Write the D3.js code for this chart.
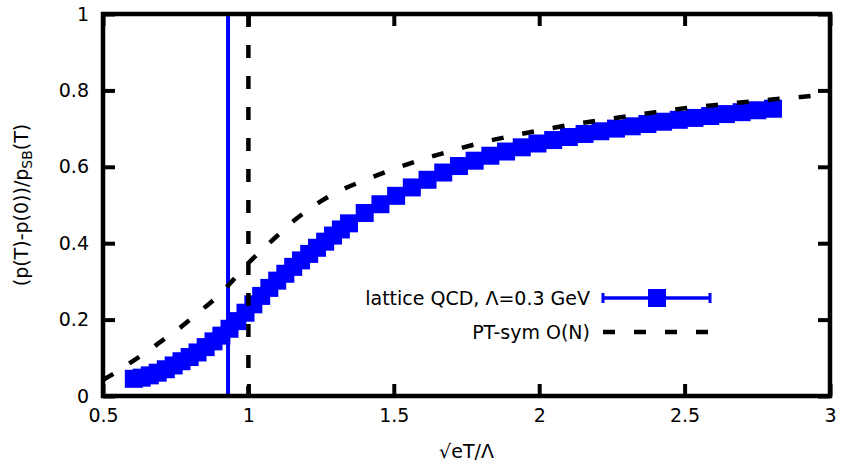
<!DOCTYPE html>
<html>
<head>
<meta charset="utf-8">
<script src="https://cdn.jsdelivr.net/npm/d3@7"></script>
<style>
  body { margin: 0; background: #fff; }
  svg { display: block; font-family: "DejaVu Sans", sans-serif; }
</style>
</head>
<body>
<svg id="chart" width="841" height="461"></svg>
<script>
// lattice QCD points (x = sqrt(eT)/Lambda)
const latticeX = [0.606, 0.633, 0.661, 0.688, 0.716, 0.743, 0.770, 0.798, 0.825, 0.853,
  0.880, 0.907, 0.935, 0.962, 0.990, 1.017, 1.044, 1.072, 1.099, 1.127,
  1.154, 1.181, 1.209, 1.236, 1.264, 1.291, 1.318, 1.346, 1.400, 1.454,
  1.508, 1.562, 1.616, 1.670, 1.724, 1.778, 1.832, 1.886, 1.940, 1.994,
  2.048, 2.102, 2.156, 2.210, 2.264, 2.318, 2.372, 2.426, 2.480, 2.534,
  2.588, 2.642, 2.696, 2.750, 2.804];
const latticeY = [0.045, 0.048, 0.054, 0.061, 0.070, 0.080, 0.091, 0.102, 0.114, 0.128,
  0.143, 0.158, 0.176, 0.196, 0.218, 0.240, 0.262, 0.283, 0.302, 0.320,
  0.338, 0.355, 0.372, 0.388, 0.404, 0.420, 0.436, 0.452, 0.479, 0.502,
  0.524, 0.546, 0.566, 0.585, 0.602, 0.616, 0.629, 0.640, 0.651, 0.661,
  0.670, 0.678, 0.686, 0.693, 0.700, 0.706, 0.712, 0.718, 0.723, 0.728,
  0.733, 0.738, 0.743, 0.748, 0.752];

// PT-symmetric O(N) curve
const ptX = [0.50, 0.55, 0.60, 0.65, 0.70, 0.75, 0.80, 0.85, 0.90, 0.95,
  1.00, 1.05, 1.10, 1.15, 1.20, 1.25, 1.30, 1.40, 1.50, 1.60,
  1.70, 1.80, 1.90, 2.00, 2.10, 2.20, 2.30, 2.40, 2.50, 2.60,
  2.70, 2.80, 2.90, 3.00];
const ptY = [0.042, 0.065, 0.090, 0.115, 0.143, 0.170, 0.200, 0.232, 0.265, 0.306,
  0.348, 0.385, 0.420, 0.455, 0.484, 0.510, 0.532, 0.565, 0.594, 0.620,
  0.642, 0.663, 0.680, 0.695, 0.709, 0.721, 0.732, 0.743, 0.753, 0.761,
  0.769, 0.776, 0.783, 0.791];

// vertical marker lines
const latticeTc = 0.93;
const ptTc = 1.0;

const xTicks = [0.5, 1, 1.5, 2, 2.5, 3];
const yTicks = [0, 0.2, 0.4, 0.6, 0.8, 1];

const svg = d3.select('#chart');
const x = d3.scaleLinear().domain([0.5, 3]).range([103, 830]);
const y = d3.scaleLinear().domain([0, 1]).range([396, 14]);
const fontSize = 19;

svg.append('defs').append('clipPath').attr('id', 'plotClip')
  .append('rect')
  .attr('x', x(0.5)).attr('y', y(1))
  .attr('width', x(3) - x(0.5)).attr('height', y(0) - y(1));

const plot = svg.append('g').attr('clip-path', 'url(#plotClip)');

/**
 * lattice data: line + big squares
 */
const lattice = latticeX.map((d, i) => ({ x: d, y: latticeY[i] }));
plot.append('path')
  .datum(lattice)
  .attr('d', d3.line().x(d => x(d.x)).y(d => y(d.y)))
  .style('fill', 'none')
  .style('stroke', '#0000ff')
  .style('stroke-width', 3.5);

const sq = 18;
plot.selectAll('rect.lat')
  .data(lattice)
  .enter().append('rect')
  .attr('class', 'lat')
  .attr('x', d => x(d.x) - sq / 2)
  .attr('y', d => y(d.y) - sq / 2)
  .attr('width', sq)
  .attr('height', sq)
  .style('fill', '#0000ff');

// vertical lines
plot.append('line')
  .attr('x1', x(latticeTc)).attr('x2', x(latticeTc))
  .attr('y1', y(0)).attr('y2', y(1))
  .style('stroke', '#0000ff')
  .style('stroke-width', 4);

plot.append('line')
  .attr('x1', x(ptTc)).attr('x2', x(ptTc))
  .attr('y1', y(1)).attr('y2', y(0))
  .style('stroke', '#000')
  .style('stroke-width', 4.5)
  .style('stroke-dasharray', '13 18');

// PT-sym curve
const pt = ptX.map((d, i) => ({ x: d, y: ptY[i] }));
plot.append('path')
  .datum(pt)
  .attr('d', d3.line().curve(d3.curveMonotoneX).x(d => x(d.x)).y(d => y(d.y)))
  .style('fill', 'none')
  .style('stroke', '#000')
  .style('stroke-width', 4.5)
  .style('stroke-dasharray', '12 19');

/**
 * Axes - ticks on all four sides, pointing inward
 */
const tickLen = 12;
const axBottom = svg.append('g')
  .attr('transform', `translate(0,${y(0)})`)
  .call(d3.axisBottom(x).tickValues(xTicks).tickSize(-tickLen).tickSizeOuter(0).tickPadding(13).tickFormat(d3.format('')));
const axLeft = svg.append('g')
  .attr('transform', `translate(${x(0.5)},0)`)
  .call(d3.axisLeft(y).tickValues(yTicks).tickSize(-tickLen).tickSizeOuter(0).tickPadding(14).tickFormat(d3.format('')));
const axTop = svg.append('g')
  .attr('transform', `translate(0,${y(1)})`)
  .call(d3.axisTop(x).tickValues(xTicks).tickSize(-tickLen).tickSizeOuter(0).tickFormat(''));
const axRight = svg.append('g')
  .attr('transform', `translate(${x(3)},0)`)
  .call(d3.axisRight(y).tickValues(yTicks).tickSize(-tickLen).tickSizeOuter(0).tickFormat(''));

[axBottom, axLeft, axTop, axRight].forEach(g => {
  g.select('.domain').remove();
  g.selectAll('.tick line').style('stroke', '#000').style('stroke-width', 4);
  g.selectAll('.tick text')
    .style('font-family', '"DejaVu Sans", sans-serif')
    .style('font-size', fontSize + 'px')
    .style('fill', '#000');
});

svg.append('rect')
  .attr('x', x(0.5)).attr('y', y(1))
  .attr('width', x(3) - x(0.5)).attr('height', y(0) - y(1))
  .style('fill', 'none')
  .style('stroke', '#000')
  .style('stroke-width', 4.5);

/**
 * Axis titles
 */
svg.append('text')
  .attr('x', (x(0.5) + x(3)) / 2)
  .attr('y', 458)
  .attr('text-anchor', 'middle')
  .style('font-size', fontSize + 'px')
  .text('√eT/Λ');

const yLabel = svg.append('text')
  .attr('transform', `translate(28,${(y(0) + y(1)) / 2}) rotate(-90)`)
  .attr('text-anchor', 'middle')
  .style('font-size', fontSize + 'px');
yLabel.append('tspan').text('(p(T)-p(0))/p');
yLabel.append('tspan').attr('baseline-shift', '-25%').style('font-size', '14px').text('SB');
yLabel.append('tspan').text('(T)');

/**
 * Legend
 */
const legX1 = 603, legX2 = 710, legTextX = 590;
const row1 = 298, row2 = 332;

svg.append('text')
  .attr('x', legTextX).attr('y', row1)
  .attr('dy', '0.35em')
  .attr('text-anchor', 'end')
  .style('font-size', fontSize + 'px')
  .text('lattice QCD, Λ=0.3 GeV');

svg.append('line')
  .attr('x1', legX1).attr('x2', legX2)
  .attr('y1', row1).attr('y2', row1)
  .style('stroke', '#0000ff').style('stroke-width', 3.5);
[legX1, legX2].forEach(cx => {
  svg.append('line')
    .attr('x1', cx).attr('x2', cx)
    .attr('y1', row1 - 5).attr('y2', row1 + 5)
    .style('stroke', '#0000ff').style('stroke-width', 3);
});
svg.append('rect')
  .attr('x', (legX1 + legX2) / 2 - sq / 2 + 0.5)
  .attr('y', row1 - sq / 2)
  .attr('width', sq).attr('height', sq)
  .style('fill', '#0000ff');

svg.append('text')
  .attr('x', legTextX).attr('y', row2)
  .attr('dy', '0.35em')
  .attr('text-anchor', 'end')
  .style('font-size', fontSize + 'px')
  .text('PT-sym O(N)');

svg.append('line')
  .attr('x1', legX1).attr('x2', legX2)
  .attr('y1', row2).attr('y2', row2)
  .style('stroke', '#000').style('stroke-width', 4.5)
  .style('stroke-dasharray', '12 19');
</script>
</body>
</html>
